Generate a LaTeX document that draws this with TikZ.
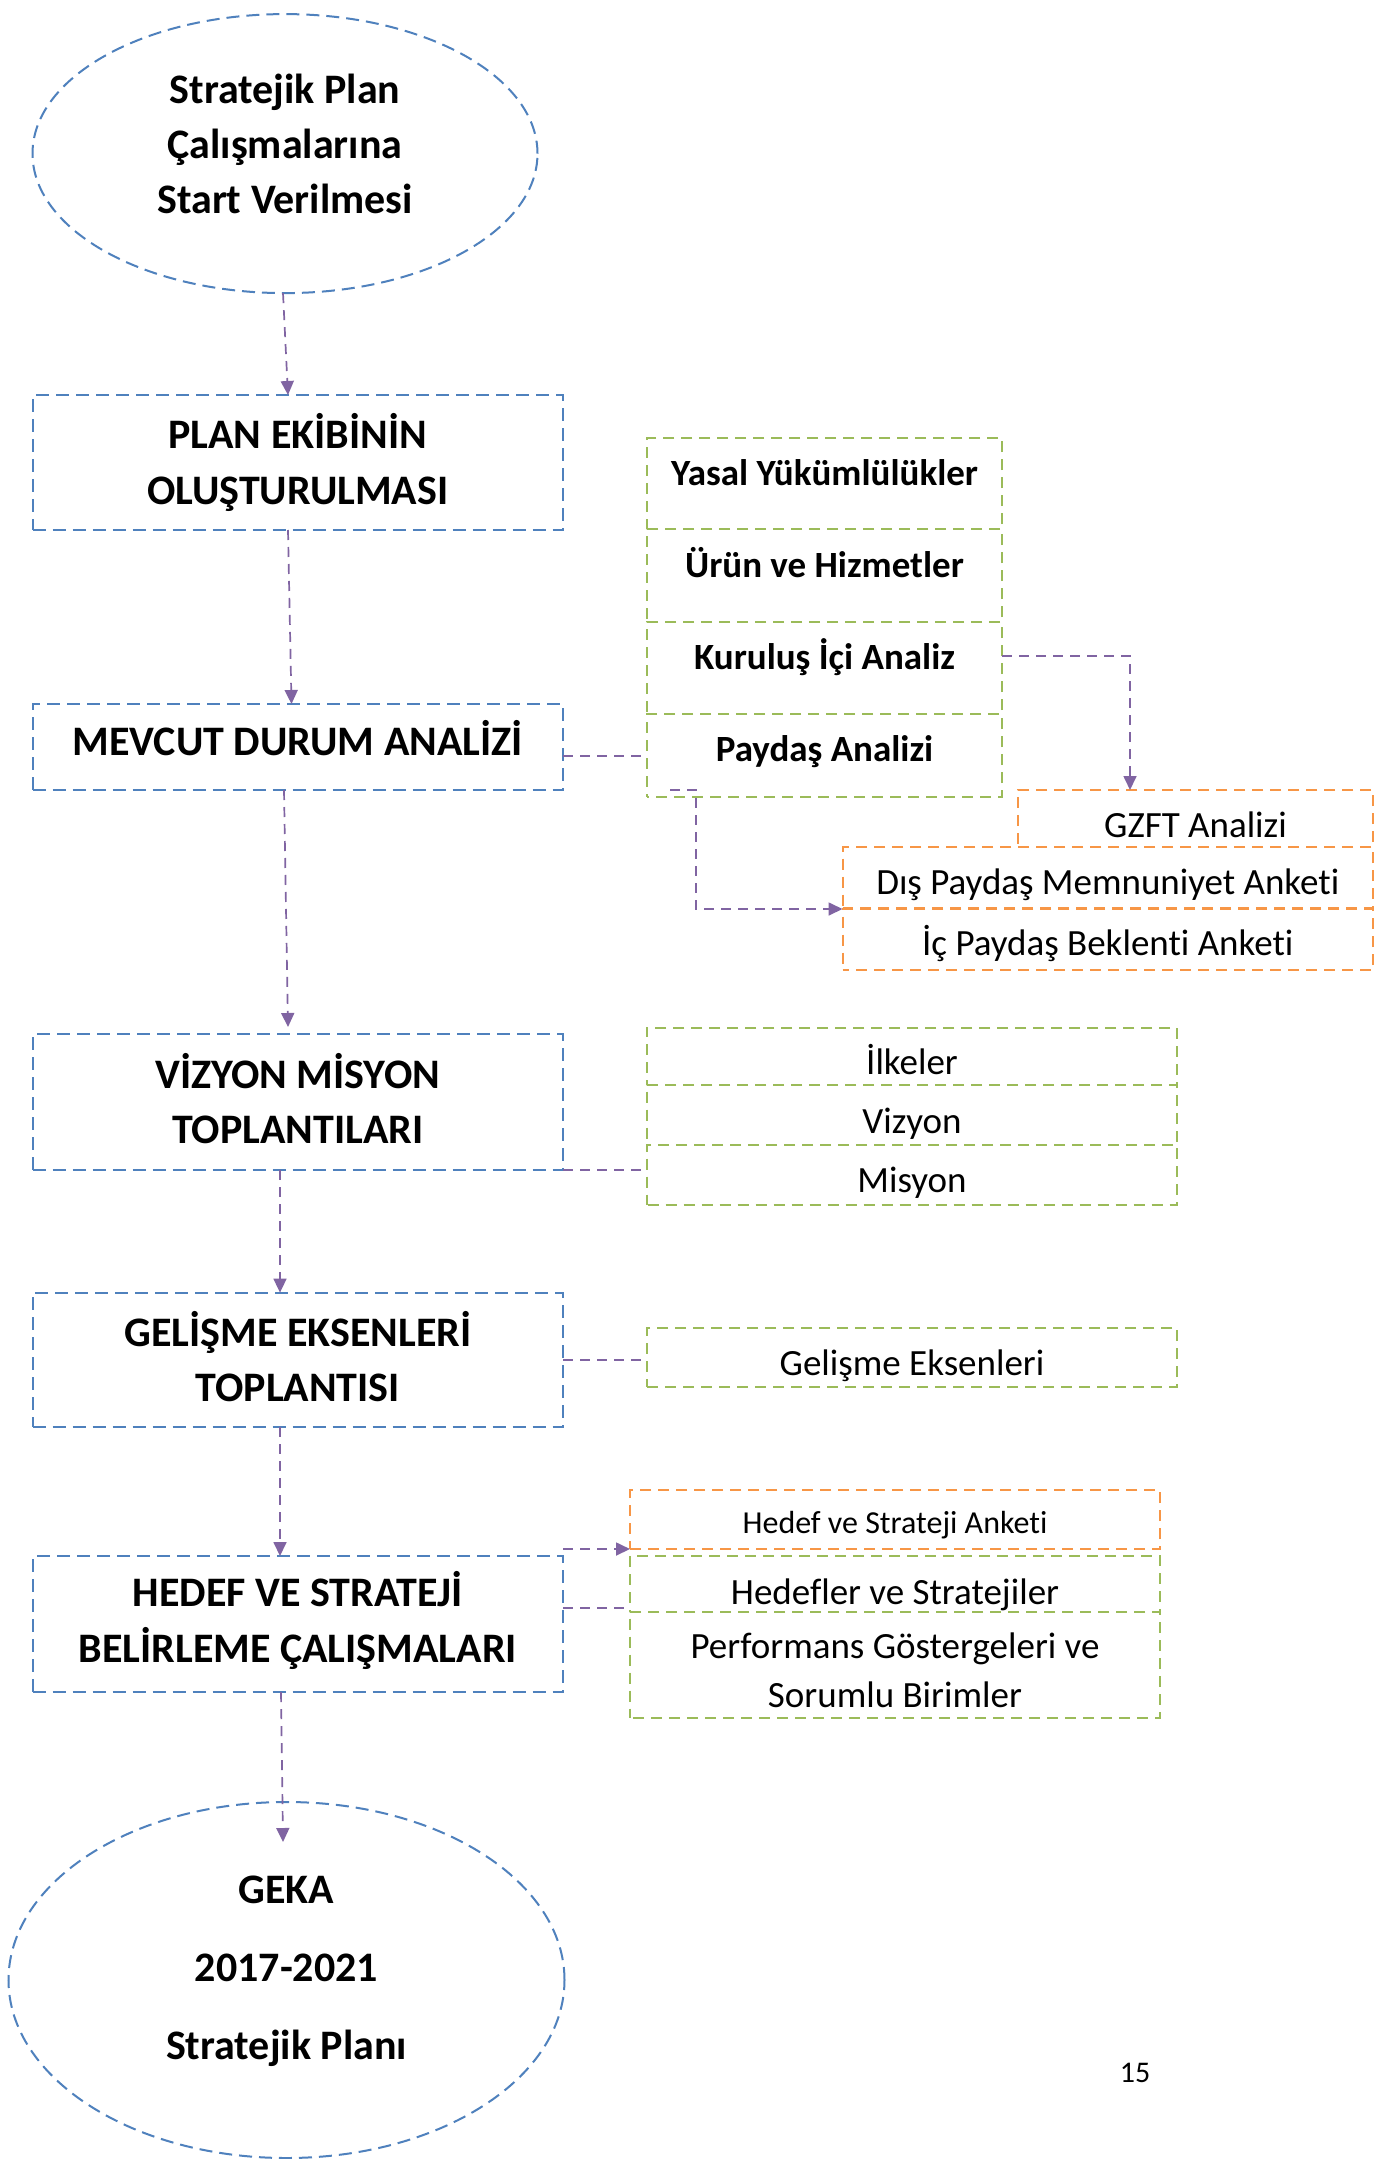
\documentclass[tikz,border=0pt]{standalone}
\usepackage{fontspec}
\setmainfont{Carlito}[Ligatures={NoCommon}]
\usetikzlibrary{arrows.meta,shapes.geometric,calc}
\definecolor{cblue}{HTML}{4F81BD}
\definecolor{cpurple}{HTML}{8064A2}
\definecolor{cgreen}{HTML}{9BBB59}
\definecolor{corange}{HTML}{F79646}
\newcommand{\bl}[2]{\raisebox{-#1pt}{#2}}
\newcommand{\stk}[1]{\begin{tabular}[b]{@{}c@{}}#1\end{tabular}}
\begin{document}
\begin{tikzpicture}[x=1pt,y=-1pt,
  every node/.style={inner sep=0pt, outer sep=0pt},
  bb/.style={draw=cblue, line width=2pt, dash pattern=on 13pt off 7pt},
  bbox/.style={bb, rectangle, minimum width=530.5pt, align=center, font=\fontsize{42}{55.6}\selectfont\bfseries},
  bboxone/.style={bb, rectangle, minimum width=530.5pt, text height=0pt, text depth=0pt, font=\fontsize{42}{55.6}\selectfont\bfseries},
  bell/.style={bb, ellipse},
  gline/.style={draw=cgreen, line width=2pt, dash pattern=on 11pt off 7pt, rectangle},
  oline/.style={draw=corange, line width=2pt, dash pattern=on 11pt off 7pt, rectangle},
  tz/.style={text height=0pt, text depth=0pt},
  gb/.style={gline, tz, minimum width=355pt, font=\fontsize{37}{44}\selectfont\bfseries},
  gr/.style={gline, tz, minimum width=530pt, font=\fontsize{37}{48.4}\selectfont},
  orb/.style={oline, tz, font=\fontsize{37}{44}\selectfont},
  conn/.style={draw=cpurple, line width=1.7pt, dash pattern=on 10pt off 7pt},
  arr/.style={conn, -{Triangle[length=14pt,width=13pt]}}
]
\path[use as bounding box, fill=white] (0,0) rectangle (1376,2159);

% main column
\node[bell, minimum width=505pt, minimum height=279pt,
  label={[font=\fontsize{42}{55.3}\selectfont\bfseries, align=center, yshift=9.6pt]center:{Stratejik Plan\\Çalışmalarına\\Start Verilmesi}}] (e1) at (285,153.6) {};
\node[bbox, minimum height=135pt] (plan) at (297.75,462.5) {PLAN EKİBİNİN\\OLUŞTURULMASI};
\node[bboxone, minimum height=86pt] (mevcut) at (297.75,747) {\bl{8.5}{MEVCUT DURUM ANALİZİ}};
\node[bbox, minimum height=136pt] (vizyon) at (297.75,1102) {VİZYON MİSYON\\TOPLANTILARI\vphantom{Ş}};
\node[bbox, minimum height=134.4pt] (gelisme) at (297.75,1359.8) {GELİŞME EKSENLERİ\\TOPLANTISI\vphantom{Ş}};
\node[bboxone, minimum height=136pt] (hedef) at (297.75,1624) {\bl{38.5}{\stk{HEDEF VE STRATEJİ\\BELİRLEME ÇALIŞMALARI}}};
\node[bell, minimum width=556pt, minimum height=356pt,
  label={[font=\fontsize{42}{78}\selectfont\bfseries, align=center, yshift=8.3pt]center:{GEKA\\2017-2021\\Stratejik Planı}}] (e2) at (286.5,1980) {};

% green stack (current state analysis)
\node[gb, minimum height=91pt] (yasal) at (824.5,483.5) {\bl{1.8}{Yasal Yükümlülükler}};
\node[gb, minimum height=93pt, dash phase=0pt] (urun) at (824.5,575.5) {\bl{1.5}{Ürün ve Hizmetler}};
\node[gb, minimum height=92pt, dash phase=1pt] (kurulus) at (824.5,668) {\bl{1.4}{Kuruluş İçi Analiz}};
\node[gb, minimum height=83.3pt, dash phase=8.7pt] (paydas) at (824.5,755.65) {\bl{5.4}{Paydaş Analizi}};

% orange boxes
\node[orb, minimum width=355pt, minimum height=57pt] (gzft) at (1195.5,818.5) {\bl{19}{GZFT Analizi}};
\node[orb, minimum width=530.5pt, minimum height=61pt, dash phase=0.5pt] (dis) at (1107.75,877.5) {\bl{17}{Dış Paydaş Memnuniyet Anketi}};
\node[orb, minimum width=530.5pt, minimum height=61pt, dash phase=4.5pt] (ic) at (1107.75,939.5) {\bl{15.7}{İç Paydaş Beklenti Anketi}};

% green list (vision)
\node[gr, minimum height=57.2pt] (ilkeler) at (912,1056.1) {\bl{18.5}{İlkeler}};
\node[gr, minimum height=60.1pt, dash phase=6.9pt] (vizyonb) at (912,1114.75) {\bl{18.5}{Vizyon}};
\node[gr, minimum height=60.6pt, dash phase=17.5pt] (misyon) at (912,1175.1) {\bl{17.1}{Misyon}};
\node[gr, minimum height=59pt] (gelismeb) at (912,1357.5) {\bl{18}{Gelişme Eksenleri}};

% goals
\node[orb, minimum width=530pt, minimum height=59pt, font=\fontsize{32}{38}\selectfont] (anket) at (895,1519.5) {\bl{13.7}{Hedef ve Strateji Anketi}};
\node[gr, minimum height=55.7pt] (hedefler) at (895,1583.85) {\bl{20.3}{Hedefler ve Stratejiler}};
\node[gr, minimum height=106.3pt, dash phase=14.7pt] (perf) at (895,1664.85) {\bl{42.15}{\stk{Performans Göstergeleri ve\\Sorumlu Birimler}}};

% page number
\node[tz, font=\fontsize{30}{36}\selectfont] (pnum) at (1135,2073) {\bl{9.5}{15}};

% connectors
\draw[arr] ([xshift=-2pt]e1.south) -- ([xshift=-9.75pt]plan.north);
\draw[arr] ([xshift=-9.75pt]plan.south) -- ([xshift=-6.25pt]mevcut.north);
\draw[arr] ([xshift=-13.75pt]mevcut.south) -- ([xshift=-9.75pt,yshift=7pt]vizyon.north);
\draw[arr] ([xshift=-17.75pt]vizyon.south) -- ([xshift=-17.75pt]gelisme.north);
\draw[arr] ([xshift=-17.75pt]gelisme.south) -- ([xshift=-17.75pt]hedef.north);
\draw[arr] ([xshift=-16.75pt]hedef.south) -- ([xshift=-3.5pt,yshift=-40pt]e2.north);

\draw[conn] (mevcut.east |- paydas.west) -- (paydas.west);
\draw[arr] ([yshift=12pt]kurulus.east) -| ([xshift=-65.5pt]gzft.north);
\coordinate (pstart) at ([xshift=23pt,yshift=7.3pt]paydas.south west);
\draw[arr] (pstart) -- ++(25.7,0) |- (ic.north west);
\draw[conn] (vizyon.south east) -- (vizyon.south east -| misyon.west);
\draw[conn] (gelisme.east) -- (gelisme.east -| gelismeb.west);
\draw[arr] (anket.south west -| hedef.east) -- (anket.south west);
\coordinate (hstart) at ([yshift=4pt]perf.north west);
\draw[conn] (hstart -| hedef.east) -- (hstart);
\end{tikzpicture}
\end{document}
